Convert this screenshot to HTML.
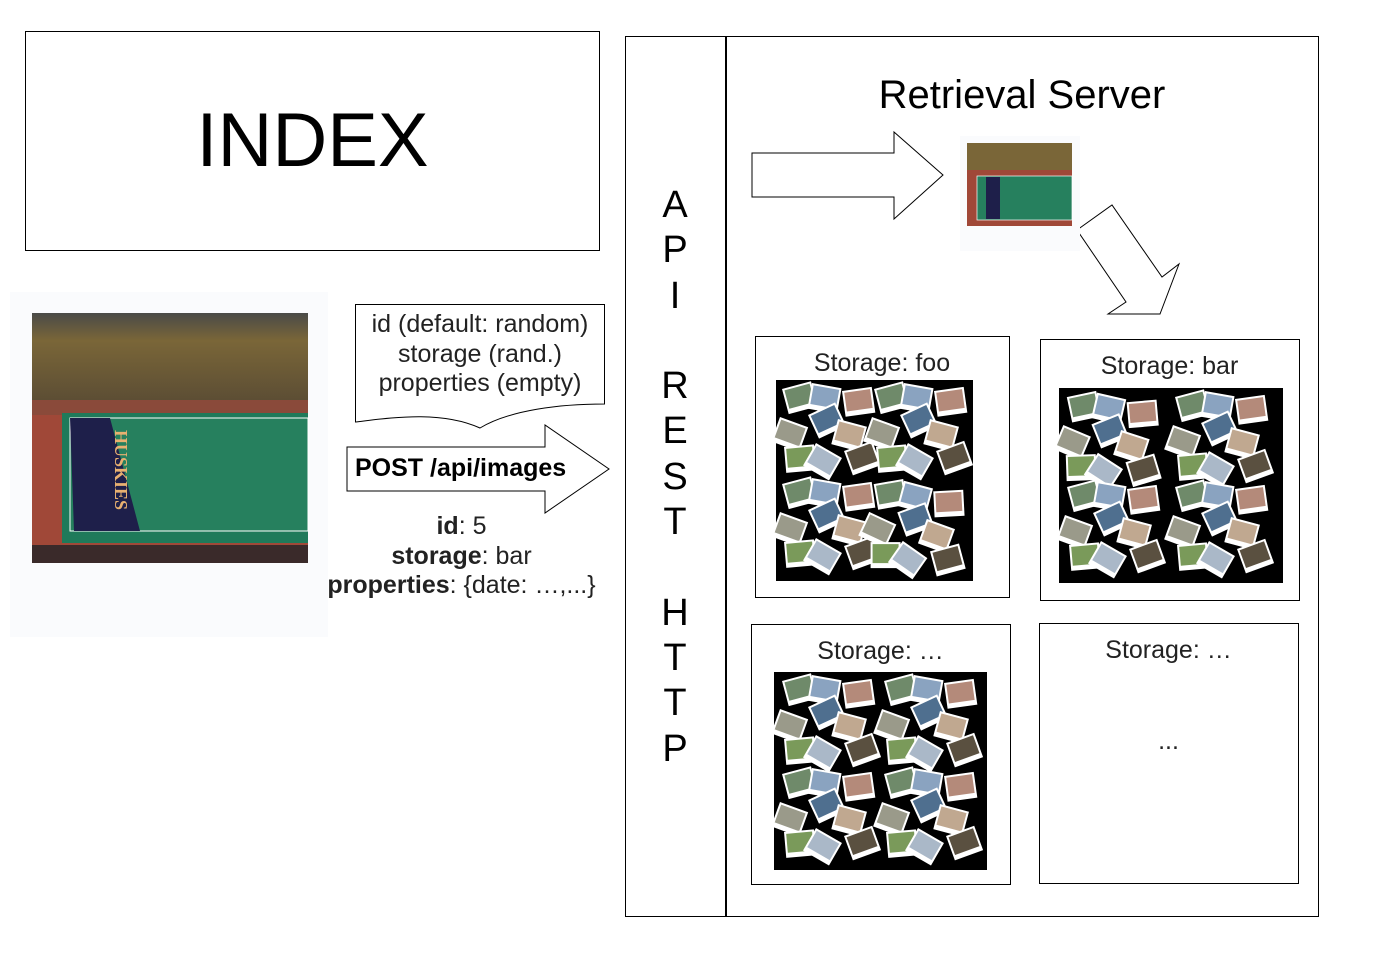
<!DOCTYPE html>
<html><head><meta charset="utf-8"><style>
body{margin:0;background:#fff;width:1392px;height:960px;overflow:hidden;position:relative;font-family:"Liberation Sans",sans-serif;}
.t{position:absolute;white-space:nowrap;color:#000;}
</style></head><body>
<svg width="1392" height="960" style="position:absolute;left:0;top:0">
<defs>
<linearGradient id="crowd" x1="0" y1="0" x2="0" y2="1"><stop offset="0" stop-color="#4a4a48"/><stop offset="0.3" stop-color="#7a6638"/><stop offset="1" stop-color="#5a4c34"/></linearGradient>
<g id="tiles">
<g transform="translate(2,4) rotate(-15)"><rect width="30" height="26" fill="#fff"/><rect x="2" y="2" width="26" height="19" fill="#6f8a6a"/></g>
<g transform="translate(32,-2) rotate(10)"><rect width="30" height="26" fill="#fff"/><rect x="2" y="2" width="26" height="19" fill="#8aa3c0"/></g>
<g transform="translate(62,6) rotate(-8)"><rect width="30" height="26" fill="#fff"/><rect x="2" y="2" width="26" height="19" fill="#b48a7a"/></g>
<g transform="translate(0,32) rotate(20)"><rect width="30" height="26" fill="#fff"/><rect x="2" y="2" width="26" height="19" fill="#9a9a8a"/></g>
<g transform="translate(28,30) rotate(-25)"><rect width="30" height="26" fill="#fff"/><rect x="2" y="2" width="26" height="19" fill="#4f6f8f"/></g>
<g transform="translate(58,34) rotate(15)"><rect width="30" height="26" fill="#fff"/><rect x="2" y="2" width="26" height="19" fill="#c0a890"/></g>
<g transform="translate(4,62) rotate(-5)"><rect width="30" height="26" fill="#fff"/><rect x="2" y="2" width="26" height="19" fill="#7a9a5a"/></g>
<g transform="translate(36,58) rotate(30)"><rect width="30" height="26" fill="#fff"/><rect x="2" y="2" width="26" height="19" fill="#aab8c8"/></g>
<g transform="translate(64,66) rotate(-20)"><rect width="30" height="26" fill="#fff"/><rect x="2" y="2" width="26" height="19" fill="#5a5040"/></g>
</g>
</defs>
<rect x="25.5" y="31.5" width="574" height="219" fill="#fff" stroke="#000"/>
<rect x="625.5" y="36.5" width="693" height="880" fill="none" stroke="#000"/>
<line x1="726" y1="36" x2="726" y2="916" stroke="#000" stroke-width="2"/>
<polygon points="752,153 894,153 894,132 943,175 894,219 894,197 752,197" fill="#fff" stroke="#000"/>
<polygon points="1077,230 1112,205 1162,277 1179,264 1160,314 1108,314 1126,302" fill="#fff" stroke="#000"/>
<path d="M355.5,304.5 H604.5 V404 C560,404 510,410 480,428 C440,410 390,418 355.5,422 Z" fill="#fff" stroke="#000"/>
<polygon points="347,447 545,447 545,425 609,469 545,513 545,491 347,491" fill="#fff" stroke="#000"/>
<g>
<rect x="10" y="292" width="318" height="345" fill="#fafbfd"/>
<rect x="32" y="313" width="276" height="250" fill="#6a5a3a"/>
<rect x="32" y="313" width="276" height="92" fill="url(#crowd)"/>
<rect x="32" y="400" width="276" height="25" fill="#8a4a3a"/>
<rect x="32" y="415" width="276" height="140" fill="#a04838"/>
<rect x="62" y="413" width="246" height="130" fill="#1f7a5a"/>
<rect x="70" y="418" width="238" height="113" fill="#26805e" stroke="#fff" stroke-width="1"/>
<polygon points="70,418 110,418 140,531 74,531" fill="#1e1f4a"/>
<text x="115" y="470" transform="rotate(90 115 470)" font-family="Liberation Serif" font-size="18" fill="#e8b070" text-anchor="middle" font-weight="bold">HUSKIES</text>
<rect x="32" y="545" width="276" height="18" fill="#3a2a2a"/>
</g>
<rect x="960" y="136" width="120" height="115" fill="#fafbfd"/>
<rect x="967" y="143" width="105" height="83" fill="#7a6638"/>
<rect x="967" y="170" width="105" height="56" fill="#a04838"/>
<rect x="977" y="176" width="95" height="44" fill="#26805e" stroke="#fff" stroke-width="0.7"/>
<rect x="986" y="177" width="14" height="42" fill="#1e1f4a"/>
<rect x="755.5" y="336.5" width="254" height="261" fill="#fff" stroke="#000"/>
<rect x="776" y="380" width="197" height="201" fill="#000"/>
<g transform="translate(780,385)"><use href="#tiles"/><use href="#tiles" transform="translate(92,0)"/><use href="#tiles" transform="translate(0,95)"/><use href="#tiles" transform="translate(92,95) rotate(5)"/></g>
<rect x="1040.5" y="339.5" width="259" height="261" fill="#fff" stroke="#000"/>
<rect x="1059" y="388" width="224" height="195" fill="#000"/>
<g transform="translate(1065,393)"><use href="#tiles" transform="rotate(3)"/><use href="#tiles" transform="translate(108,0)"/><use href="#tiles" transform="translate(0,90)"/><use href="#tiles" transform="translate(108,90)"/></g>
<rect x="751.5" y="624.5" width="259" height="260" fill="#fff" stroke="#000"/>
<rect x="774" y="672" width="213" height="198" fill="#000"/>
<g transform="translate(780,677)"><use href="#tiles"/><use href="#tiles" transform="translate(102,0)"/><use href="#tiles" transform="translate(0,93)"/><use href="#tiles" transform="translate(102,93)"/></g>
<rect x="1039.5" y="623.5" width="259" height="260" fill="#fff" stroke="#000"/>
</svg>
<div class="t" style="left:25px;width:575px;text-align:center;top:97px;font-size:76px;">INDEX</div>
<div class="t" style="left:726px;width:592px;text-align:center;top:73px;font-size:40px;">Retrieval Server</div>
<div class="t" style="left:640px;width:70px;text-align:center;top:183px;font-size:38px;line-height:45.3px;white-space:normal">A<br>P<br>I<br><br>R<br>E<br>S<br>T<br><br>H<br>T<br>T<br>P</div>
<div class="t" style="left:340px;width:280px;text-align:center;top:310px;font-size:25px;line-height:29.5px;color:#222">id (default: random)<br>storage (rand.)<br>properties (empty)</div>
<div class="t" style="left:355px;top:454px;font-size:25px;font-weight:bold">POST /api/images</div>
<div class="t" style="left:310px;width:303px;text-align:center;top:512px;font-size:25px;line-height:29.5px;color:#222"><b>id</b>: 5<br><b>storage</b>: bar<br><b>properties</b>: {date: …,...}</div>
<div class="t" style="left:755px;width:254px;text-align:center;top:349px;font-size:25px;color:#222">Storage: foo</div>
<div class="t" style="left:1040px;width:259px;text-align:center;top:352px;font-size:25px;color:#222">Storage: bar</div>
<div class="t" style="left:751px;width:259px;text-align:center;top:637px;font-size:25px;color:#222">Storage: …</div>
<div class="t" style="left:1039px;width:259px;text-align:center;top:636px;font-size:25px;color:#222">Storage: …</div>
<div class="t" style="left:1039px;width:259px;text-align:center;top:727px;font-size:25px;color:#222">...</div>
</body></html>
